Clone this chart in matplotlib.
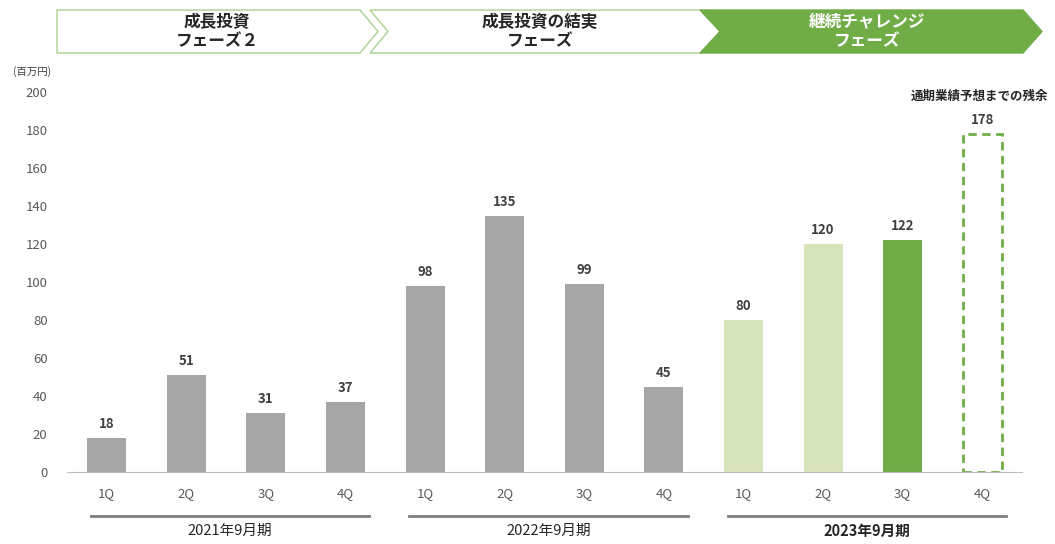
import matplotlib.pyplot as plt
from matplotlib.patches import Polygon
from matplotlib.transforms import blended_transform_factory

plt.rcParams['font.family'] = ['Noto Sans CJK JP', 'DejaVu Sans']

quarters = ['1Q', '2Q', '3Q', '4Q'] * 3
values = [18, 51, 31, 37, 98, 135, 99, 45, 80, 120, 122, 178]
years = ['2021年9月期', '2022年9月期', '2023年9月期']
phases = ['成長投資\nフェーズ２', '成長投資の結実\nフェーズ', '継続チャレンジ\nフェーズ']
forecast_note = '通期業績予想までの残余'

GREY = '#A6A6A6'
LIGHT_GREEN = '#D8E4BC'
GREEN = '#70AD47'
bar_colors = [GREY] * 8 + [LIGHT_GREEN, LIGHT_GREEN, GREEN, 'none']

W, H = 1055, 544
fig = plt.figure(figsize=(W / 100, H / 100), dpi=100)
ax = fig.add_axes([67 / W, 1 - 472 / H, (1022 - 67) / W, (472 - 92) / H])

x = list(range(len(values)))
solid = x[:-1]
ax.bar(solid, values[:-1], width=0.49, color=bar_colors[:-1], zorder=2)
# remaining amount to the full-year forecast: dashed outline only
ax.bar(x[-1], values[-1], width=0.49, fill=False, edgecolor=GREEN,
       linestyle=(0, (3, 2)), linewidth=2, zorder=2)

for xi, v in zip(x, values):
    ax.annotate(str(v), (xi, v), xytext=(0, 5), textcoords='offset points',
                ha='center', va='bottom', fontsize=9.5, fontweight='bold',
                color='#404040')
ax.annotate(forecast_note, (x[-1], values[-1]), xytext=(-2, 22),
            textcoords='offset points', ha='center', va='bottom',
            fontsize=9, fontweight='bold', color='#262626')

ax.set_xlim(-0.5, len(values) - 0.5)
ax.set_ylim(0, 200)
ax.set_yticks(range(0, 201, 20))
ax.set_xticks(x, quarters)
ax.tick_params(axis='both', length=0, labelsize=9.5, colors='#595959')
ax.tick_params(axis='x', pad=11)
ax.tick_params(axis='y', pad=14)
for s in ['top', 'right', 'left']:
    ax.spines[s].set_visible(False)
ax.spines['bottom'].set_color('#BFBFBF')
ax.spines['bottom'].set_zorder(3)

fig.text(32 / W, 1 - 72 / H, '(百万円)', ha='center', va='center',
         fontsize=7.5, color='#404040')

# fiscal year brackets under the quarter labels
tr = blended_transform_factory(ax.transData, fig.transFigure)
for g, year in enumerate(years):
    ax.plot([4 * g - 0.2, 4 * g + 3.3], [1 - 516 / H] * 2, color='#7F7F7F',
            lw=2, transform=tr, clip_on=False)
    ax.text(4 * g + 1.55, 1 - 531 / H, year, transform=tr, ha='center',
            va='center', fontsize=10.5, color='#262626',
            fontweight='bold' if g == 2 else 'normal')

# phase arrows across the top (pixel geometry)
def px(pts):
    return [(a / W, 1 - b / H) for a, b in pts]

top, bot, mid = 10, 53, 31.5
shapes = [
    [(57, top), (360, top), (378, mid), (360, bot), (57, bot)],
    [(370, top), (702, top), (720, mid), (702, bot), (370, bot), (388, mid)],
    [(700, top), (1023, top), (1042, mid), (1023, bot), (700, bot), (720, mid)],
]
fills = ['white', 'white', GREEN]
text_cx = [217, 540, 867]
for i, (pts, fc) in enumerate(zip(shapes, fills)):
    fig.patches.append(Polygon(px(pts), closed=True, facecolor=fc,
                               edgecolor='#A9D18E' if fc == 'white' else GREEN,
                               lw=1, transform=fig.transFigure))
    fig.text(text_cx[i] / W, 1 - mid / H, phases[i], ha='center', va='center',
             fontsize=12, fontweight='bold', linespacing=1.05,
             color='white' if i == 2 else '#262626')

fig.savefig('out.png', dpi=100)
